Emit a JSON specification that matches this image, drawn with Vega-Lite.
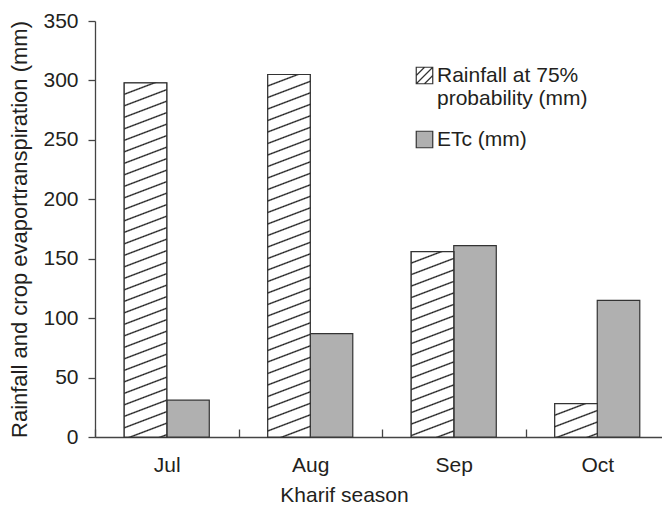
{
  "$schema": "https://vega.github.io/schema/vega-lite/v6.json",
  "width": 574,
  "height": 416,
  "autosize": "none",
  "padding": {"left": 95, "top": 21, "right": -7, "bottom": 68},
  "background": "white",
  "config": {
    "view": {"stroke": null},
    "font": "Liberation Sans",
    "axis": {"grid": false, "domainColor": "#444", "domainWidth": 1.3, "tickColor": "#444", "tickWidth": 1.3, "labelFontSize": 21, "labelColor": "#231f20", "titleFontSize": 21, "titleFontWeight": "normal", "titleColor": "#231f20", "labelFont": "Liberation Sans", "titleFont": "Liberation Sans"},
    "axisX": {"tickSize": -8, "labelPadding": 25, "titlePadding": 9, "tickBand": "extent", "labelAngle": 0, "titleX": 249},
    "axisY": {"tickSize": 7, "labelPadding": 10, "titlePadding": 11, "titleFontSize": 22},
    "legend": {"title": null, "orient": "none", "padding": 0, "labelFontSize": 21, "labelColor": "#231f20", "labelFont": "Liberation Sans", "symbolSize": 272, "symbolStrokeWidth": 1.2, "symbolOpacity": 1, "labelOffset": 2, "labelLimit": 300}
  },
  "data": {"values": [
    {"month": "Jul", "series": "Rainfall at 75% probability (mm)", "value": 298},
    {"month": "Jul", "series": "ETc (mm)", "value": 31},
    {"month": "Aug", "series": "Rainfall at 75% probability (mm)", "value": 305},
    {"month": "Aug", "series": "ETc (mm)", "value": 87},
    {"month": "Sep", "series": "Rainfall at 75% probability (mm)", "value": 156},
    {"month": "Sep", "series": "ETc (mm)", "value": 161},
    {"month": "Oct", "series": "Rainfall at 75% probability (mm)", "value": 28},
    {"month": "Oct", "series": "ETc (mm)", "value": 115}
  ]},
  "encoding": {
    "x": {"field": "month", "type": "nominal", "sort": ["Jul", "Aug", "Sep", "Oct"], "scale": {"paddingInner": 0, "paddingOuter": 0}, "axis": {"title": "Kharif season"}},
    "xOffset": {"field": "series", "type": "nominal", "sort": ["Rainfall at 75% probability (mm)", "ETc (mm)"], "scale": {"domain": ["Rainfall at 75% probability (mm)", "ETc (mm)"], "paddingInner": 0, "paddingOuter": 0.687}},
    "y": {"field": "value", "type": "quantitative", "scale": {"domain": [0, 350], "nice": false}, "axis": {"title": "Rainfall and crop evaportranspiration (mm)", "values": [0, 50, 100, 150, 200, 250, 300, 350]}}
  },
  "layer": [
    {
      "transform": [{"filter": "datum.series === 'ETc (mm)'"}],
      "mark": {"type": "bar", "stroke": "#333", "strokeWidth": 1.2},
      "encoding": {
        "color": {"field": "series", "type": "nominal", "scale": {"domain": ["ETc (mm)"], "range": ["#b0b0b0"]},
          "legend": {"legendX": 319, "legendY": 108, "symbolType": "square", "symbolStrokeColor": "#333", "symbolFillColor": "#b0b0b0"}
        }
      }
    },
    {
      "transform": [{"filter": "datum.series === 'Rainfall at 75% probability (mm)'"}],
      "mark": {"type": "bar", "fill": "#fff", "strokeWidth": 1.2},
      "encoding": {
        "stroke": {"field": "series", "type": "nominal", "scale": {"domain": ["Rainfall at 75% probability (mm)"], "range": ["#333"]},
          "legend": {"legendX": 319, "legendY": 44, "symbolType": "M-1,-1H1V1H-1Z M-1,0L0,-1 M-1,1L1,-1 M0,1L1,0", "symbolFillColor": "#fff",
            "labelExpr": "['Rainfall at 75%', 'probability (mm)']",
            "encode": {"labels": {"update": {"lineHeight": {"value": 27}}}}
          }
        }
      }
    },
    {
      "transform": [{"filter": "datum.series === 'Rainfall at 75% probability (mm)' && datum.month === 'Jul'"}],
      "mark": {"type": "bar", "stroke": "#333", "strokeWidth": 1.2, "fill": {"gradient": "linear", "x1": 0, "y1": 0, "x2": 0.0591, "y2": 1.2961, "stops": [
        {"offset": 0.022, "color": "#fff"}, {"offset": 0.025, "color": "#1a1a1a"}, {"offset": 0.028, "color": "#fff"},
        {"offset": 0.047, "color": "#fff"}, {"offset": 0.05, "color": "#1a1a1a"}, {"offset": 0.053, "color": "#fff"},
        {"offset": 0.072, "color": "#fff"}, {"offset": 0.075, "color": "#1a1a1a"}, {"offset": 0.078, "color": "#fff"},
        {"offset": 0.097, "color": "#fff"}, {"offset": 0.1, "color": "#1a1a1a"}, {"offset": 0.103, "color": "#fff"},
        {"offset": 0.122, "color": "#fff"}, {"offset": 0.125, "color": "#1a1a1a"}, {"offset": 0.128, "color": "#fff"},
        {"offset": 0.147, "color": "#fff"}, {"offset": 0.15, "color": "#1a1a1a"}, {"offset": 0.153, "color": "#fff"},
        {"offset": 0.172, "color": "#fff"}, {"offset": 0.175, "color": "#1a1a1a"}, {"offset": 0.178, "color": "#fff"},
        {"offset": 0.197, "color": "#fff"}, {"offset": 0.2, "color": "#1a1a1a"}, {"offset": 0.203, "color": "#fff"},
        {"offset": 0.222, "color": "#fff"}, {"offset": 0.225, "color": "#1a1a1a"}, {"offset": 0.228, "color": "#fff"},
        {"offset": 0.247, "color": "#fff"}, {"offset": 0.25, "color": "#1a1a1a"}, {"offset": 0.253, "color": "#fff"},
        {"offset": 0.272, "color": "#fff"}, {"offset": 0.275, "color": "#1a1a1a"}, {"offset": 0.278, "color": "#fff"},
        {"offset": 0.297, "color": "#fff"}, {"offset": 0.3, "color": "#1a1a1a"}, {"offset": 0.303, "color": "#fff"},
        {"offset": 0.322, "color": "#fff"}, {"offset": 0.325, "color": "#1a1a1a"}, {"offset": 0.328, "color": "#fff"},
        {"offset": 0.347, "color": "#fff"}, {"offset": 0.35, "color": "#1a1a1a"}, {"offset": 0.353, "color": "#fff"},
        {"offset": 0.372, "color": "#fff"}, {"offset": 0.375, "color": "#1a1a1a"}, {"offset": 0.378, "color": "#fff"},
        {"offset": 0.397, "color": "#fff"}, {"offset": 0.4, "color": "#1a1a1a"}, {"offset": 0.403, "color": "#fff"},
        {"offset": 0.422, "color": "#fff"}, {"offset": 0.425, "color": "#1a1a1a"}, {"offset": 0.428, "color": "#fff"},
        {"offset": 0.447, "color": "#fff"}, {"offset": 0.45, "color": "#1a1a1a"}, {"offset": 0.453, "color": "#fff"},
        {"offset": 0.472, "color": "#fff"}, {"offset": 0.475, "color": "#1a1a1a"}, {"offset": 0.478, "color": "#fff"},
        {"offset": 0.497, "color": "#fff"}, {"offset": 0.5, "color": "#1a1a1a"}, {"offset": 0.503, "color": "#fff"},
        {"offset": 0.522, "color": "#fff"}, {"offset": 0.525, "color": "#1a1a1a"}, {"offset": 0.528, "color": "#fff"},
        {"offset": 0.547, "color": "#fff"}, {"offset": 0.55, "color": "#1a1a1a"}, {"offset": 0.553, "color": "#fff"},
        {"offset": 0.572, "color": "#fff"}, {"offset": 0.575, "color": "#1a1a1a"}, {"offset": 0.578, "color": "#fff"},
        {"offset": 0.597, "color": "#fff"}, {"offset": 0.6, "color": "#1a1a1a"}, {"offset": 0.603, "color": "#fff"},
        {"offset": 0.622, "color": "#fff"}, {"offset": 0.625, "color": "#1a1a1a"}, {"offset": 0.628, "color": "#fff"},
        {"offset": 0.647, "color": "#fff"}, {"offset": 0.65, "color": "#1a1a1a"}, {"offset": 0.653, "color": "#fff"},
        {"offset": 0.672, "color": "#fff"}, {"offset": 0.675, "color": "#1a1a1a"}, {"offset": 0.678, "color": "#fff"},
        {"offset": 0.697, "color": "#fff"}, {"offset": 0.7, "color": "#1a1a1a"}, {"offset": 0.703, "color": "#fff"},
        {"offset": 0.722, "color": "#fff"}, {"offset": 0.725, "color": "#1a1a1a"}, {"offset": 0.728, "color": "#fff"},
        {"offset": 0.747, "color": "#fff"}, {"offset": 0.75, "color": "#1a1a1a"}, {"offset": 0.753, "color": "#fff"},
        {"offset": 0.772, "color": "#fff"}, {"offset": 0.775, "color": "#1a1a1a"}, {"offset": 0.778, "color": "#fff"},
        {"offset": 0.797, "color": "#fff"}, {"offset": 0.8, "color": "#1a1a1a"}, {"offset": 0.803, "color": "#fff"},
        {"offset": 0.822, "color": "#fff"}, {"offset": 0.825, "color": "#1a1a1a"}, {"offset": 0.828, "color": "#fff"}
      ]}}
    },
    {
      "transform": [{"filter": "datum.series === 'Rainfall at 75% probability (mm)' && datum.month === 'Aug'"}],
      "mark": {"type": "bar", "stroke": "#333", "strokeWidth": 1.2, "fill": {"gradient": "linear", "x1": 0, "y1": 0, "x2": 0.0564, "y2": 1.2664, "stops": [
        {"offset": 0.022, "color": "#fff"}, {"offset": 0.025, "color": "#1a1a1a"}, {"offset": 0.028, "color": "#fff"},
        {"offset": 0.047, "color": "#fff"}, {"offset": 0.05, "color": "#1a1a1a"}, {"offset": 0.053, "color": "#fff"},
        {"offset": 0.072, "color": "#fff"}, {"offset": 0.075, "color": "#1a1a1a"}, {"offset": 0.078, "color": "#fff"},
        {"offset": 0.097, "color": "#fff"}, {"offset": 0.1, "color": "#1a1a1a"}, {"offset": 0.103, "color": "#fff"},
        {"offset": 0.122, "color": "#fff"}, {"offset": 0.125, "color": "#1a1a1a"}, {"offset": 0.128, "color": "#fff"},
        {"offset": 0.147, "color": "#fff"}, {"offset": 0.15, "color": "#1a1a1a"}, {"offset": 0.153, "color": "#fff"},
        {"offset": 0.172, "color": "#fff"}, {"offset": 0.175, "color": "#1a1a1a"}, {"offset": 0.178, "color": "#fff"},
        {"offset": 0.197, "color": "#fff"}, {"offset": 0.2, "color": "#1a1a1a"}, {"offset": 0.203, "color": "#fff"},
        {"offset": 0.222, "color": "#fff"}, {"offset": 0.225, "color": "#1a1a1a"}, {"offset": 0.228, "color": "#fff"},
        {"offset": 0.247, "color": "#fff"}, {"offset": 0.25, "color": "#1a1a1a"}, {"offset": 0.253, "color": "#fff"},
        {"offset": 0.272, "color": "#fff"}, {"offset": 0.275, "color": "#1a1a1a"}, {"offset": 0.278, "color": "#fff"},
        {"offset": 0.297, "color": "#fff"}, {"offset": 0.3, "color": "#1a1a1a"}, {"offset": 0.303, "color": "#fff"},
        {"offset": 0.322, "color": "#fff"}, {"offset": 0.325, "color": "#1a1a1a"}, {"offset": 0.328, "color": "#fff"},
        {"offset": 0.347, "color": "#fff"}, {"offset": 0.35, "color": "#1a1a1a"}, {"offset": 0.353, "color": "#fff"},
        {"offset": 0.372, "color": "#fff"}, {"offset": 0.375, "color": "#1a1a1a"}, {"offset": 0.378, "color": "#fff"},
        {"offset": 0.397, "color": "#fff"}, {"offset": 0.4, "color": "#1a1a1a"}, {"offset": 0.403, "color": "#fff"},
        {"offset": 0.422, "color": "#fff"}, {"offset": 0.425, "color": "#1a1a1a"}, {"offset": 0.428, "color": "#fff"},
        {"offset": 0.447, "color": "#fff"}, {"offset": 0.45, "color": "#1a1a1a"}, {"offset": 0.453, "color": "#fff"},
        {"offset": 0.472, "color": "#fff"}, {"offset": 0.475, "color": "#1a1a1a"}, {"offset": 0.478, "color": "#fff"},
        {"offset": 0.497, "color": "#fff"}, {"offset": 0.5, "color": "#1a1a1a"}, {"offset": 0.503, "color": "#fff"},
        {"offset": 0.522, "color": "#fff"}, {"offset": 0.525, "color": "#1a1a1a"}, {"offset": 0.528, "color": "#fff"},
        {"offset": 0.547, "color": "#fff"}, {"offset": 0.55, "color": "#1a1a1a"}, {"offset": 0.553, "color": "#fff"},
        {"offset": 0.572, "color": "#fff"}, {"offset": 0.575, "color": "#1a1a1a"}, {"offset": 0.578, "color": "#fff"},
        {"offset": 0.597, "color": "#fff"}, {"offset": 0.6, "color": "#1a1a1a"}, {"offset": 0.603, "color": "#fff"},
        {"offset": 0.622, "color": "#fff"}, {"offset": 0.625, "color": "#1a1a1a"}, {"offset": 0.628, "color": "#fff"},
        {"offset": 0.647, "color": "#fff"}, {"offset": 0.65, "color": "#1a1a1a"}, {"offset": 0.653, "color": "#fff"},
        {"offset": 0.672, "color": "#fff"}, {"offset": 0.675, "color": "#1a1a1a"}, {"offset": 0.678, "color": "#fff"},
        {"offset": 0.697, "color": "#fff"}, {"offset": 0.7, "color": "#1a1a1a"}, {"offset": 0.703, "color": "#fff"},
        {"offset": 0.722, "color": "#fff"}, {"offset": 0.725, "color": "#1a1a1a"}, {"offset": 0.728, "color": "#fff"},
        {"offset": 0.747, "color": "#fff"}, {"offset": 0.75, "color": "#1a1a1a"}, {"offset": 0.753, "color": "#fff"},
        {"offset": 0.772, "color": "#fff"}, {"offset": 0.775, "color": "#1a1a1a"}, {"offset": 0.778, "color": "#fff"},
        {"offset": 0.797, "color": "#fff"}, {"offset": 0.8, "color": "#1a1a1a"}, {"offset": 0.803, "color": "#fff"},
        {"offset": 0.822, "color": "#fff"}, {"offset": 0.825, "color": "#1a1a1a"}, {"offset": 0.828, "color": "#fff"}
      ]}}
    },
    {
      "transform": [{"filter": "datum.series === 'Rainfall at 75% probability (mm)' && datum.month === 'Sep'"}],
      "mark": {"type": "bar", "stroke": "#333", "strokeWidth": 1.2, "fill": {"gradient": "linear", "x1": 0, "y1": 0, "x2": 0.1072, "y2": 1.2311, "stops": [
        {"offset": 0.044, "color": "#fff"}, {"offset": 0.05, "color": "#1a1a1a"}, {"offset": 0.056, "color": "#fff"},
        {"offset": 0.094, "color": "#fff"}, {"offset": 0.1, "color": "#1a1a1a"}, {"offset": 0.106, "color": "#fff"},
        {"offset": 0.144, "color": "#fff"}, {"offset": 0.15, "color": "#1a1a1a"}, {"offset": 0.156, "color": "#fff"},
        {"offset": 0.194, "color": "#fff"}, {"offset": 0.2, "color": "#1a1a1a"}, {"offset": 0.206, "color": "#fff"},
        {"offset": 0.244, "color": "#fff"}, {"offset": 0.25, "color": "#1a1a1a"}, {"offset": 0.256, "color": "#fff"},
        {"offset": 0.294, "color": "#fff"}, {"offset": 0.3, "color": "#1a1a1a"}, {"offset": 0.306, "color": "#fff"},
        {"offset": 0.344, "color": "#fff"}, {"offset": 0.35, "color": "#1a1a1a"}, {"offset": 0.356, "color": "#fff"},
        {"offset": 0.394, "color": "#fff"}, {"offset": 0.4, "color": "#1a1a1a"}, {"offset": 0.406, "color": "#fff"},
        {"offset": 0.444, "color": "#fff"}, {"offset": 0.45, "color": "#1a1a1a"}, {"offset": 0.456, "color": "#fff"},
        {"offset": 0.494, "color": "#fff"}, {"offset": 0.5, "color": "#1a1a1a"}, {"offset": 0.506, "color": "#fff"},
        {"offset": 0.544, "color": "#fff"}, {"offset": 0.55, "color": "#1a1a1a"}, {"offset": 0.556, "color": "#fff"},
        {"offset": 0.594, "color": "#fff"}, {"offset": 0.6, "color": "#1a1a1a"}, {"offset": 0.606, "color": "#fff"},
        {"offset": 0.644, "color": "#fff"}, {"offset": 0.65, "color": "#1a1a1a"}, {"offset": 0.656, "color": "#fff"},
        {"offset": 0.694, "color": "#fff"}, {"offset": 0.7, "color": "#1a1a1a"}, {"offset": 0.706, "color": "#fff"},
        {"offset": 0.744, "color": "#fff"}, {"offset": 0.75, "color": "#1a1a1a"}, {"offset": 0.756, "color": "#fff"},
        {"offset": 0.794, "color": "#fff"}, {"offset": 0.8, "color": "#1a1a1a"}, {"offset": 0.806, "color": "#fff"},
        {"offset": 0.844, "color": "#fff"}, {"offset": 0.85, "color": "#1a1a1a"}, {"offset": 0.856, "color": "#fff"}
      ]}}
    },
    {
      "transform": [{"filter": "datum.series === 'Rainfall at 75% probability (mm)' && datum.month === 'Oct'"}],
      "mark": {"type": "bar", "stroke": "#333", "strokeWidth": 1.2, "fill": {"gradient": "linear", "x1": 0, "y1": 0, "x2": 0.6786, "y2": 1.3985, "stops": [
        {"offset": 0.176, "color": "#fff"}, {"offset": 0.2, "color": "#1a1a1a"}, {"offset": 0.224, "color": "#fff"},
        {"offset": 0.376, "color": "#fff"}, {"offset": 0.4, "color": "#1a1a1a"}, {"offset": 0.424, "color": "#fff"},
        {"offset": 0.576, "color": "#fff"}, {"offset": 0.6, "color": "#1a1a1a"}, {"offset": 0.624, "color": "#fff"},
        {"offset": 0.776, "color": "#fff"}, {"offset": 0.8, "color": "#1a1a1a"}, {"offset": 0.824, "color": "#fff"}
      ]}}
    }
  ]
}
